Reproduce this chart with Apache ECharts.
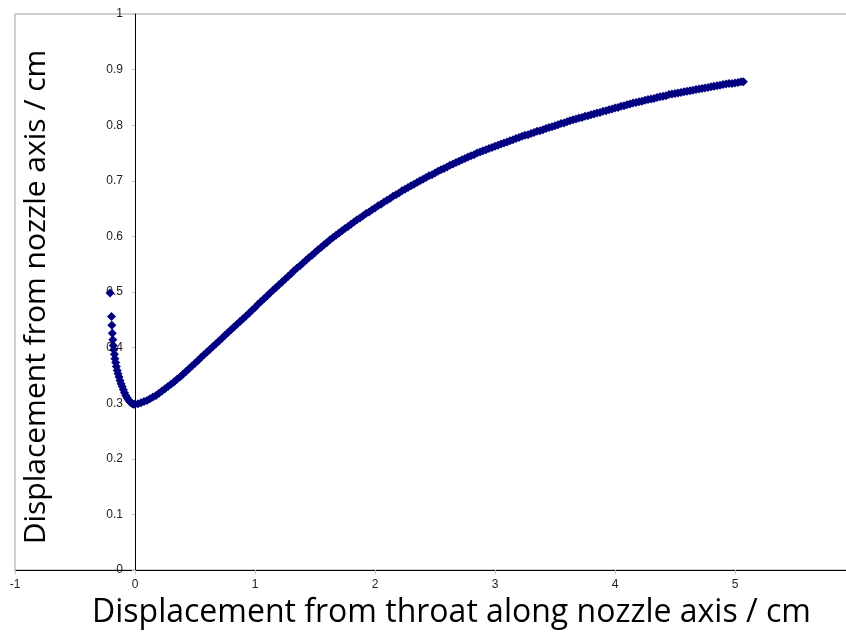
<!DOCTYPE html>
<html>
<head>
<meta charset="utf-8">
<script src="https://cdn.jsdelivr.net/npm/echarts@6/dist/echarts.min.js"></script>
<style>html,body{margin:0;padding:0;background:#fff;}#chart{width:846px;height:636px;}</style>
</head>
<body>
<div id="chart"></div>
<script>
// Displacement from throat along nozzle axis (cm)
var xValues = [
-0.208,-0.196,-0.193,-0.189,-0.185,-0.181,-0.177,-0.172,-0.167,-0.161,-0.155,-0.148,-0.141,-0.133,-0.125,-0.116,-0.107,-0.097,-0.087,-0.077,-0.066,-0.055,-0.044,-0.033,-0.022,-0.011,
0.000,0.025,0.050,0.075,0.100,0.125,0.150,0.175,0.200,0.225,0.250,0.275,0.300,0.325,0.350,0.375,0.400,0.425,0.450,0.475,
0.500,0.525,0.550,0.575,0.600,0.625,0.650,0.675,0.700,0.725,0.750,0.775,0.800,0.825,0.850,0.875,0.900,0.925,0.950,0.975,
1.000,1.025,1.050,1.075,1.100,1.125,1.150,1.175,1.200,1.225,1.250,1.275,1.300,1.325,1.350,1.375,1.400,1.425,1.450,1.475,
1.500,1.525,1.550,1.575,1.600,1.625,1.650,1.675,1.700,1.725,1.750,1.775,1.800,1.825,1.850,1.875,1.900,1.925,1.950,1.975,
2.000,2.025,2.050,2.075,2.100,2.125,2.150,2.175,2.200,2.225,2.250,2.275,2.300,2.325,2.350,2.375,2.400,2.425,2.450,2.475,
2.500,2.525,2.550,2.575,2.600,2.625,2.650,2.675,2.700,2.725,2.750,2.775,2.800,2.825,2.850,2.875,2.900,2.925,2.950,2.975,
3.000,3.025,3.050,3.075,3.100,3.125,3.150,3.175,3.200,3.225,3.250,3.275,3.300,3.325,3.350,3.375,3.400,3.425,3.450,3.475,
3.500,3.525,3.550,3.575,3.600,3.625,3.650,3.675,3.700,3.725,3.750,3.775,3.800,3.825,3.850,3.875,3.900,3.925,3.950,3.975,
4.000,4.025,4.050,4.075,4.100,4.125,4.150,4.175,4.200,4.225,4.250,4.275,4.300,4.325,4.350,4.375,4.400,4.425,4.450,4.475,
4.500,4.525,4.550,4.575,4.600,4.625,4.650,4.675,4.700,4.725,4.750,4.775,4.800,4.825,4.850,4.875,4.900,4.925,4.950,4.975,
5.000,5.025,5.050,5.070
];
// Displacement from nozzle axis (cm)
var yValues = [
0.498,0.456,0.440,0.426,0.414,0.404,0.396,0.388,0.380,0.373,0.366,0.359,0.353,0.347,0.341,0.335,0.330,0.324,0.319,0.314,0.310,0.306,0.303,0.301,0.299,0.298,
0.298,0.299,0.301,0.303,0.305,0.308,0.311,0.314,0.318,0.322,0.326,0.330,0.334,0.338,0.343,0.347,0.352,0.357,0.362,0.367,
0.372,0.377,0.382,0.387,0.392,0.397,0.402,0.407,0.412,0.417,0.422,0.427,0.432,0.437,0.442,0.447,0.452,0.457,0.462,0.467,
0.472,0.478,0.483,0.488,0.493,0.498,0.503,0.508,0.513,0.518,0.523,0.528,0.533,0.538,0.543,0.547,0.552,0.557,0.562,0.566,
0.571,0.576,0.580,0.585,0.589,0.594,0.598,0.602,0.606,0.610,0.614,0.618,0.622,0.626,0.630,0.633,0.637,0.641,0.644,0.648,
0.651,0.655,0.658,0.662,0.665,0.668,0.672,0.675,0.678,0.682,0.685,0.688,0.691,0.694,0.697,0.700,0.703,0.706,0.709,0.711,
0.714,0.717,0.720,0.722,0.725,0.728,0.730,0.733,0.735,0.738,0.740,0.743,0.745,0.747,0.750,0.752,0.754,0.756,0.758,0.760,
0.762,0.764,0.766,0.768,0.770,0.772,0.774,0.776,0.778,0.780,0.782,0.783,0.785,0.787,0.789,0.790,0.792,0.794,0.796,0.797,
0.799,0.801,0.803,0.804,0.806,0.808,0.810,0.811,0.813,0.814,0.816,0.817,0.819,0.820,0.822,0.823,0.825,0.826,0.828,0.829,
0.831,0.832,0.834,0.835,0.837,0.838,0.840,0.841,0.842,0.843,0.845,0.846,0.847,0.848,0.850,0.851,0.852,0.853,0.855,0.856,
0.857,0.858,0.859,0.860,0.861,0.862,0.863,0.864,0.865,0.866,0.867,0.868,0.869,0.870,0.871,0.872,0.873,0.874,0.875,0.875,
0.876,0.877,0.878,0.878
];
var xTitle = 'Displacement from throat along nozzle axis / cm';
var yTitle = 'Displacement from nozzle axis / cm';

var points = xValues.map(function (x, i) { return [x, yValues[i]]; });

var chart = echarts.init(document.getElementById('chart'), null, {renderer: 'canvas'});
chart.setOption({
  animation: false,
  backgroundColor: '#ffffff',
  grid: {left: 15, top: 14, width: 840, height: 556, show: true, borderColor: '#a0a0a0', borderWidth: 1,
    containLabel: false, outerBoundsMode: 'none'},
  xAxis: {
    type: 'value', min: -1, max: 6, interval: 1,
    splitLine: {show: false},
    axisLine: {show: true, onZero: false, lineStyle: {color: '#000', width: 1}},
    axisTick: {show: true, length: 4, lineStyle: {color: '#c0c0c0'}},
    axisLabel: {fontFamily: 'Liberation Sans', fontSize: 12, color: '#222', margin: 9}
  },
  yAxis: {
    type: 'value', min: 0, max: 1, interval: 0.1,
    position: 'left', offset: -120,
    splitLine: {show: false},
    axisLine: {show: true, onZero: false, lineStyle: {color: '#000', width: 1}},
    axisTick: {show: true, length: 3, lineStyle: {color: '#c0c0c0'}},
    axisLabel: {fontFamily: 'Liberation Sans', fontSize: 12, color: '#222', margin: 12,
      formatter: function (v) { return String(Math.round(v * 10) / 10); }}
  },
  graphic: [
    {type: 'text', left: 92, top: 597, style: {text: xTitle, fontFamily: 'Open Sans', fontSize: 32, fill: '#000'}},
    {type: 'text', x: 21, y: 297, rotation: Math.PI / 2, style: {text: yTitle, fontFamily: 'Open Sans', fontSize: 30, fill: '#000', align: 'center', verticalAlign: 'top'}}
  ],
  series: [{
    type: 'scatter',
    data: points,
    symbol: 'diamond',
    symbolSize: 9,
    z: 5,
    itemStyle: {color: '#000080', opacity: 1}
  }]
});
</script>
</body>
</html>
